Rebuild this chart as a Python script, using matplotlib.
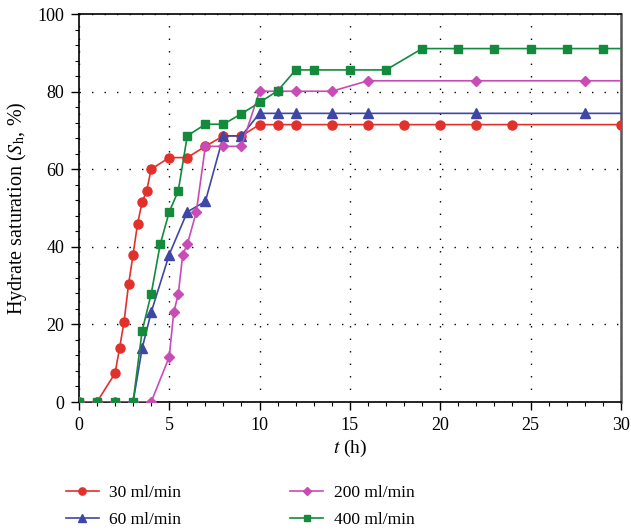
import matplotlib
matplotlib.use("Agg")
import matplotlib.pyplot as plt
from matplotlib.ticker import MultipleLocator

plt.rcParams['font.family'] = ['Liberation Serif', 'DejaVu Serif']
plt.rcParams['mathtext.fontset'] = 'stix'

# hydrate saturation vs time, four gas flow rates
t_30 = [0, 1, 2, 2.25, 2.5, 2.75, 3, 3.25, 3.5, 3.75, 4, 5, 6, 7, 8, 9, 10, 11, 12, 14, 16, 18, 20, 22, 24, 30]
s_30 = [0, 0, 7.4, 13.8, 20.7, 30.3, 38, 46, 51.5, 54.4, 60, 63, 63, 65.9, 68.6, 68.6,
        71.5, 71.5, 71.5, 71.5, 71.5, 71.5, 71.5, 71.5, 71.5, 71.5]

t_60 = [0, 1, 2, 3, 3.5, 4, 5, 6, 7, 8, 9, 10, 11, 12, 14, 16, 22, 28, 30]
s_60 = [0, 0, 0, 0, 13.8, 23.1, 38, 49, 51.7, 68.6, 68.6, 74.4, 74.4, 74.4, 74.4, 74.4, 74.4, 74.4, 74.4]

t_200 = [0, 1, 2, 3, 4, 5, 5.25, 5.5, 5.75, 6, 6.5, 7, 8, 9, 10, 11, 12, 14, 16, 22, 28, 30]
s_200 = [0, 0, 0, 0, 0, 11.6, 23.1, 27.8, 38, 40.6, 49, 65.9, 65.9, 65.9, 80.1, 80.1, 80.1, 80.1,
         82.8, 82.8, 82.8, 82.8]

t_400 = [0, 1, 2, 3, 3.5, 4, 4.5, 5, 5.5, 6, 7, 8, 9, 10, 11, 12, 13, 15, 17, 19, 21, 23, 25, 27, 29, 30]
s_400 = [0, 0, 0, 0, 18.3, 27.8, 40.6, 49, 54.4, 68.6, 71.6, 71.6, 74.3, 77.2, 80.2, 85.6, 85.6,
         85.6, 85.6, 91.1, 91.1, 91.1, 91.1, 91.1, 91.1, 91.1]

fig = plt.figure(figsize=(6.31, 5.30), dpi=100)
ax = fig.add_axes([0.125, 0.2415, 0.859, 0.732])

ax.plot(t_30, s_30, color='#E2302A', marker='o', markersize=6.5, lw=1.2,
        label='30 ml/min', zorder=3)
ax.plot(t_60, s_60, color='#3F47A6', marker='^', markersize=7, lw=1.2,
        markevery=slice(0, -1), label='60 ml/min', zorder=3)
ax.plot(t_200, s_200, color='#C94CB6', marker='D', markersize=5.5, lw=1.2,
        markevery=slice(0, -1), label='200 ml/min', zorder=3)
ax.plot(t_400, s_400, color='#138A3C', marker='s', markersize=5.5, lw=1.2,
        markevery=slice(0, -1), label='400 ml/min', zorder=4)

ax.set_xlim(0, 30)
ax.set_ylim(0, 100)
ax.xaxis.set_major_locator(MultipleLocator(5))
ax.xaxis.set_minor_locator(MultipleLocator(1))
ax.yaxis.set_major_locator(MultipleLocator(20))
ax.yaxis.set_minor_locator(MultipleLocator(4))
ax.tick_params(which='major', length=5.5, width=1, labelsize=13, pad=5, direction='out')
ax.tick_params(which='minor', length=3, width=0.8, direction='out')
ax.grid(True, which='major', color='black', linestyle=(0, (1, 8)), lw=1)

for sp in ax.spines.values():
    sp.set_linewidth(1.2)
ax.spines['right'].set_color('#555555')
ax.spines['right'].set_linewidth(1.8)

ax.set_xlabel('$t$ (h)', fontsize=14, labelpad=3)
ax.set_ylabel(r'Hydrate saturation ($S_\mathrm{h}$, %)', fontsize=14.5, labelpad=6)

fig.legend(loc='upper left', bbox_to_anchor=(0.104, 0.0845), ncol=2, frameon=False,
           borderpad=0, borderaxespad=0, markerscale=0.8,
           fontsize=12.5, handlelength=1.9, handletextpad=0.6,
           columnspacing=6.3, labelspacing=0.58)

fig.savefig('out.png', dpi=100)
